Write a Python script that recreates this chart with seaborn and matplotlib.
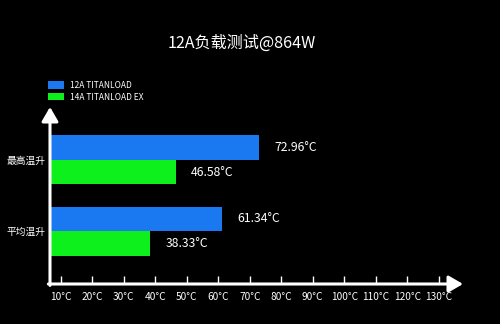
import matplotlib
matplotlib.use("Agg")
import matplotlib.pyplot as plt
import seaborn as sns
import pandas as pd

categories = ["最高温升", "平均温升"]
series_names = ["12A TITANLOAD", "14A TITANLOAD EX"]
values_12a = [72.96, 61.34]
values_14a = [46.58, 38.33]
tick_values = [10, 20, 30, 40, 50, 60, 70, 80, 90, 100, 110, 120, 130]
tick_labels = [f"{v}°C" for v in tick_values]
title = "12A负载测试@864W"
colors = ["#1a78f0", "#0ef01c"]

sns.set_theme(style="dark")
plt.rcParams["font.family"] = ["Noto Sans CJK SC", "DejaVu Sans"]

df = pd.DataFrame({
    "cat": categories * 2,
    "series": [series_names[0]] * 2 + [series_names[1]] * 2,
    "val": values_12a + values_14a,
})

fig = plt.figure(figsize=(5, 3.24), dpi=100, facecolor="black")
ax = fig.add_axes([0.1, 40 / 324, 0.826, (284 - 107) / 324])
ax.set_facecolor("black")

sns.barplot(data=df, y="cat", x="val", hue="series", order=categories,
            hue_order=series_names, palette=colors, width=0.69,
            saturation=1, orient="h", ax=ax, legend=True, linewidth=0,
            edgecolor="none")

ax.set_xlim(6.6, 137.7)
ax.set_ylim(1.746, -0.746)

for cont in ax.containers:
    ax.bar_label(cont, fmt="{:.2f}°C", padding=11, color="white", fontsize=8.8)

ax.set_xticks(tick_values)
ax.set_xticklabels(tick_labels)
ax.tick_params(axis="x", direction="in", length=5.8, width=1, color="white",
               labelcolor="white", labelsize=7.3, pad=6, bottom=True)
ax.tick_params(axis="y", length=0, labelcolor="white", labelsize=7, pad=3)
ax.set_xlabel("")
ax.set_ylabel("")
ax.grid(False)
for s in ax.spines.values():
    s.set_visible(False)

arrow_kw = dict(arrowstyle="-|>,head_length=0.86,head_width=0.5",
                color="white", lw=2.2, mutation_scale=10,
                shrinkA=0, shrinkB=0)
ax.annotate("", xy=(1, 0), xytext=(-0.004, 0), xycoords="axes fraction",
            arrowprops=arrow_kw, annotation_clip=False)
ax.annotate("", xy=(0, 1), xytext=(0, -0.008), xycoords="axes fraction",
            arrowprops=arrow_kw, annotation_clip=False)

leg = ax.legend(loc="upper left", bbox_to_anchor=(48 / 500, 1 - 81 / 324),
                bbox_transform=fig.transFigure, frameon=False, fontsize=6,
                borderpad=0, borderaxespad=0, handlelength=1.95,
                handleheight=1.0, handletextpad=0.7, labelspacing=0.3)
for t in leg.get_texts():
    t.set_color("white")
for h in leg.legend_handles:
    h.set_edgecolor("none")
    h.set_linewidth(0)

fig.text(242 / 500, 1 - 43 / 324, title, color="white", fontsize=11.6,
         ha="center", va="center")

fig.savefig("out.png", dpi=100, facecolor="black")
